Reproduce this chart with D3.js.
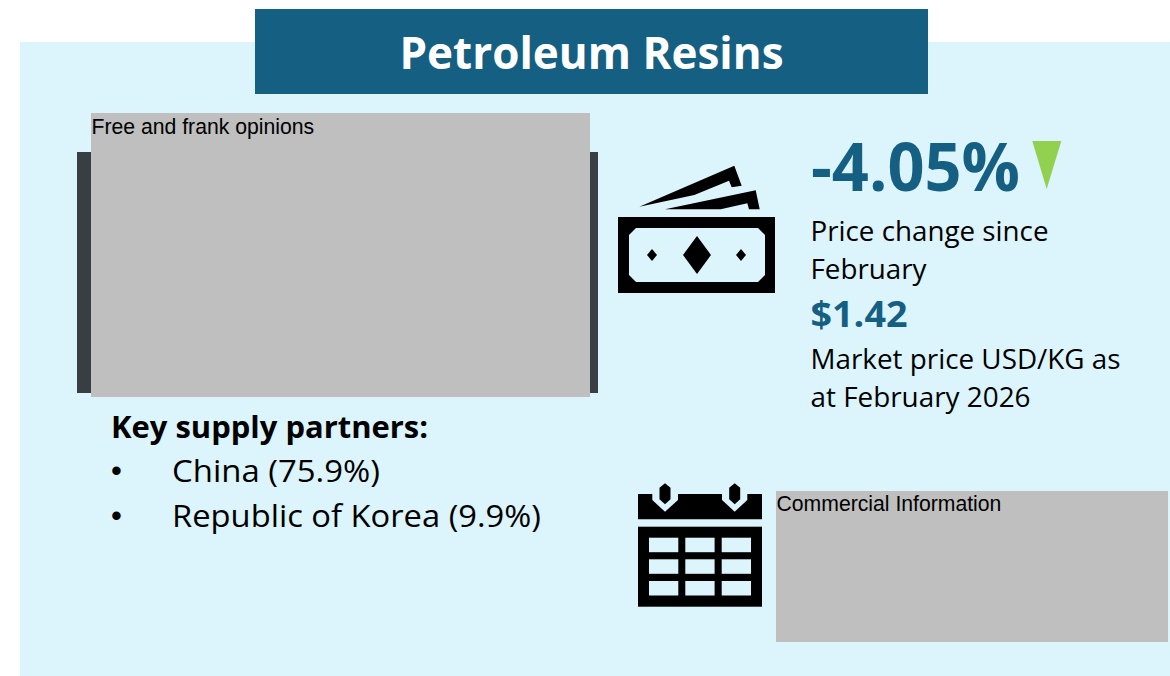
<!DOCTYPE html>
<html>
<head>
<meta charset="utf-8">
<script src="https://cdnjs.cloudflare.com/ajax/libs/d3/7.8.5/d3.min.js"></script>
<style>
html, body { margin: 0; padding: 0; background: #fff; }
svg { display: block; }
text { font-family: "Open Sans", sans-serif; }
</style>
</head>
<body>
<svg id="chart" width="1170" height="676"></svg>
<script>
// values
var partners = ["China", "Republic of Korea"];
var partnerShares = [75.9, 9.9];
var priceChange = [-4.05];
var marketPrice = [1.42];
var redactedLabels = ["Free and frank opinions", "Commercial Information"];

var blue = "#156082";
var pale = "#DCF4FC";
var svg = d3.select("#chart");
var line = d3.line();

function box(x, y, w, h, fill) {
	return svg.append("rect").attr("x", x).attr("y", y).attr("width", w).attr("height", h).attr("fill", fill);
}
function label(x, y, str, size, fill, weight, family) {
	var t = svg.append("text").attr("x", x).attr("y", y).attr("font-size", size)
		.attr("fill", fill || "#000").attr("font-weight", weight || 400).text(str);
	if (family) t.style("font-family", family);
	return t;
}
function poly(pts, fill) {
	return svg.append("path").attr("d", line(pts) + "Z").attr("fill", fill);
}

//panel and title bar
box(20, 42, 1150, 634, pale);
box(255, 9, 673, 85, blue);
label(591.5, 69, "Petroleum Resins", 44, "#fff", 700).attr("text-anchor", "middle");

//left block, hidden picture
box(77, 152, 521, 241, "#373F43");
box(91, 113, 499, 284, "#BFBFBF");
label(91.5, 134, redactedLabels[0], 21.2, "#000", 400, "'Liberation Sans'");

//supply partners
label(111, 438, "Key supply partners:", 30, "#000", 700).attr("textLength", 317).attr("lengthAdjust", "spacingAndGlyphs");
var rowY = d3.scalePoint().domain(partners).range([482, 527]);
partners.forEach(function(p, i) {
	label(111, rowY(p) - 1.5, "\u2022", 31, "#000", 400, "'Liberation Sans'");
	label(172, rowY(p), p + " (" + partnerShares[i] + "%)", 31.5).attr("textLength", i == 0 ? 208 : 369).attr("lengthAdjust", "spacingAndGlyphs");
});

//money icon
box(618, 217, 157, 76, "#000");
poly([[636, 228], [758, 228], [765, 235], [765, 275], [758, 282], [636, 282], [629, 275], [629, 235]], pale);
poly([[697, 236], [711, 255], [697, 274], [683, 255]], "#000");
poly([[652, 249], [657, 255], [652, 261], [647, 255]], "#000");
poly([[741, 249], [746, 255], [741, 261], [736, 255]], "#000");
poly([[639.3, 206.7], [734.3, 165.7], [741.7, 185.7], [731.7, 187.3], [729, 180.7], [694.3, 195]], "#000");
poly([[665, 209.3], [755.7, 190.3], [759.7, 209.3], [749, 209.3], [747.3, 203.3], [720.7, 209.3]], "#000");

//price change
label(811, 191, d3.format(".2f")(priceChange[0]).replace("\u2212", "-") + "%", 66, blue, 700).attr("textLength", 209).attr("lengthAdjust", "spacingAndGlyphs");
poly([[1032.3, 141], [1061.3, 141], [1046.7, 189]], "#92D050");
label(810.5, 241, "Price change since", 27).attr("textLength", 238).attr("lengthAdjust", "spacingAndGlyphs");
label(810.5, 279, "February", 27).attr("textLength", 116).attr("lengthAdjust", "spacingAndGlyphs");
label(810.5, 327, "$" + d3.format(".2f")(marketPrice[0]), 35, blue, 700).attr("textLength", 97).attr("lengthAdjust", "spacingAndGlyphs");
label(810.5, 369, "Market price USD/KG as", 27).attr("textLength", 310).attr("lengthAdjust", "spacingAndGlyphs");
label(810.5, 407, "at February 2026", 27).attr("textLength", 220).attr("lengthAdjust", "spacingAndGlyphs");

//calendar icon
poly([[638, 494], [652.3, 494], [652.3, 500], [665, 511.7], [678, 500], [678, 494], [722, 494], [722, 500], [734.7, 511.7], [747.3, 500], [747.3, 494], [762, 494], [762, 519.3], [638, 519.3]], "#000");
[665, 734.7].forEach(function(cx) {
	poly([[cx, 483.3], [cx + 5.5, 487.7], [cx + 5.5, 499.3], [cx, 504.3], [cx - 5.5, 499.3], [cx - 5.5, 487.7]], "#000");
});
box(638, 526.7, 124, 80, "#000");
[649, 685.3, 721.7].forEach(function(cx) {
	[537.7, 559.3, 581].forEach(function(cy) {
		box(cx, cy, 29.3, 14.5, pale);
	});
});

//right hidden block
box(776, 491, 392, 151, "#BFBFBF");
label(776.5, 510.5, redactedLabels[1], 21.2, "#000", 400, "'Liberation Sans'");
</script>
</body>
</html>
